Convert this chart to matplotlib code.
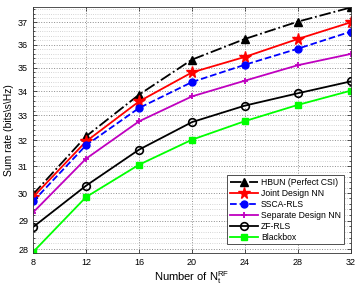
import matplotlib

matplotlib.use('agg')

import numpy as np
import matplotlib.pyplot as plt
from matplotlib.ticker import FixedLocator, FormatStrFormatter, NullFormatter

plt.rcParams['font.family'] = ['Liberation Sans', 'DejaVu Sans']
plt.rcParams['mathtext.fontset'] = 'custom'
plt.rcParams['mathtext.rm'] = 'Liberation Sans'

# values
n_rf = [8, 12, 16, 20, 24, 28, 32]
hbun = [29.95, 32.16, 33.85, 35.34, 36.25, 37.03, 37.68]
joint = [29.85, 31.96, 33.57, 34.79, 35.46, 36.25, 37.0]
ssca = [29.69, 31.81, 33.30, 34.38, 35.12, 35.82, 36.58]
separate = [29.29, 31.29, 32.76, 33.78, 34.44, 35.10, 35.59]
zf_rls = [28.77, 30.27, 31.64, 32.73, 33.40, 33.91, 34.41]
blackbox = [27.90, 29.85, 31.06, 32.03, 32.77, 33.43, 34.02]

fig = plt.figure(figsize=(3.57, 2.92), dpi=100)
ax = fig.add_axes([0.0924, 0.1346, 0.8906, 0.8414])

lw = 1.3
ax.plot(n_rf, hbun, color='k', linestyle='-.', marker='^', ms=5.5, lw=lw,
        label='HBUN (Perfect CSI)')
ax.plot(n_rf, joint, color='r', linestyle='-', marker='*', ms=8.5, lw=lw,
        label='Joint Design NN')
ax.plot(n_rf, ssca, color='b', linestyle='--', marker='o', ms=5, lw=lw,
        label='SSCA-RLS')
ax.plot(n_rf, separate, color='m', linestyle='-', marker='+', ms=5, mew=1.3,
        lw=lw, label='Separate Design NN')
ax.plot(n_rf, zf_rls, color='k', linestyle='-', marker='o', ms=5.5, mfc='none',
        mew=1.2, lw=lw, label='ZF-RLS')
ax.plot(n_rf, blackbox, color='#00ff00', linestyle='-', marker='s', ms=4.5,
        lw=lw, label='Blackbox')

ax.set_yscale('log')
ax.set_xlim(8, 32)
ax.set_ylim(27.88, 37.7)
ax.set_xticks(n_rf)
ax.yaxis.set_major_locator(FixedLocator(range(28, 38)))
ax.yaxis.set_major_formatter(FormatStrFormatter('%d'))
minor = [v for v in np.round(np.arange(28.0, 37.8, 0.2), 1) if abs(v - round(v)) > 0.01]
ax.yaxis.set_minor_locator(FixedLocator(minor))
ax.yaxis.set_minor_formatter(NullFormatter())

ax.grid(True, which='major', linestyle=':', color='0.55', lw=0.7)
ax.grid(True, which='minor', axis='y', linestyle=':', color='0.78', lw=0.6)
ax.tick_params(which='both', direction='in', top=True, right=True,
               labelsize=6.5, length=3, width=0.6, color='0.2')
ax.tick_params(which='minor', length=1.5)
for s in ax.spines.values():
    s.set_linewidth(0.6)
    s.set_color('0.2')

ax.set_xlabel(r'Number of $\mathrm{N}_\mathrm{t}^\mathrm{RF}$', fontsize=8,
              labelpad=2)
ax.set_ylabel(r'Sum rate (bits\s\Hz)', fontsize=7.5, labelpad=3)

leg = ax.legend(loc='lower right', fontsize=6.2, handlelength=3.2,
                fancybox=False, edgecolor='0.2', framealpha=1,
                borderpad=0.3, labelspacing=0.22, handletextpad=0.4,
                borderaxespad=0, bbox_to_anchor=(0.977, 0.035))
leg.get_frame().set_linewidth(0.6)

fig.savefig('out.png', dpi=100)
